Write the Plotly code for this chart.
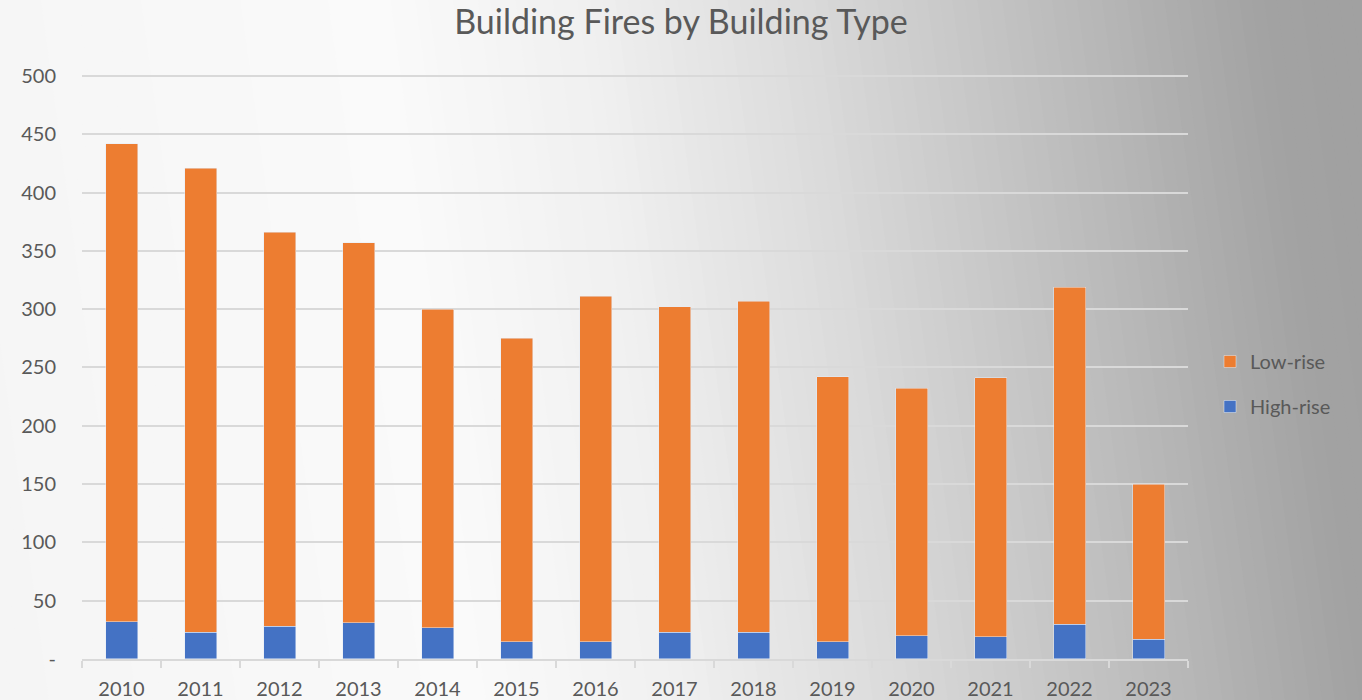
import plotly.graph_objects as go

years = ["2010", "2011", "2012", "2013", "2014", "2015", "2016",
         "2017", "2018", "2019", "2020", "2021", "2022", "2023"]
high_rise = [32, 23, 28, 31, 27, 15, 15, 23, 23, 15, 20, 19, 30, 17]
total = [442, 421, 366, 357, 300, 275, 311, 302, 307, 242, 232, 241, 319, 150]
low_rise = [t - h for t, h in zip(total, high_rise)]

y_ticks = [0, 50, 100, 150, 200, 250, 300, 350, 400, 450, 500]
y_labels = ["-"] + [str(v) for v in y_ticks[1:]]

W, H = 1362, 700
FONT = "Lato"
TEXT = "#595959"
GRID = "#d9d9d9"

fig = go.Figure()
fig.add_trace(go.Bar(x=years, y=high_rise, name="High-rise", marker_color="#4472C4",
                     legendgroup="h", legendrank=2))
fig.add_trace(go.Bar(x=years, y=low_rise, name="Low-rise", marker_color="#ED7D31",
                     legendgroup="l", legendrank=1))

# diagonal grey gradient behind everything (Excel chart area fill)
stops = [(0.0, 245), (0.35, 250), (0.5, 240), (0.65, 220), (0.8, 195), (1.0, 162), (1.2, 158)]

def grey_at(t):
    for (t0, c0), (t1, c1) in zip(stops, stops[1:]):
        if t <= t1:
            f = max(0.0, (t - t0) / (t1 - t0))
            v = round(c0 + (c1 - c0) * f)
            return f"rgb({v},{v},{v})"
    v = stops[-1][1]
    return f"rgb({v},{v},{v})"

shift = 0.07
n = 120
shapes = []
for i in range(n):
    a = -0.01 + i * (1.1 / n)
    b = a + 1.1 / n + 0.002
    path = f"M {a},0 L {b},0 L {b - shift},1 L {a - shift},1 Z"
    shapes.append(dict(type="path", path=path, xref="paper", yref="paper",
                       fillcolor=grey_at((a + b) / 2), line_width=0, layer="below"))

# 0 sits at y=659px, 500 at y=76px
y_top = 502
px_per_unit = (659 - 76) / 500
top_px = 659 - y_top * px_per_unit

fig.update_layout(
    width=W, height=H,
    margin=dict(l=0, r=0, t=0, b=0),
    paper_bgcolor="#f2f2f2",
    plot_bgcolor="rgba(0,0,0,0)",
    barmode="stack",
    bargap=0.595,
    shapes=shapes,
    font=dict(family=FONT, color=TEXT, size=20),
    title=dict(text="Building Fires by Building Type", x=0.5, xanchor="center",
               y=1 - 22 / H, yanchor="middle", font=dict(size=34, color=TEXT, family=FONT)),
    legend=dict(x=1210 / W, y=1 - 384 / H, xanchor="left", yanchor="middle",
                traceorder="grouped", tracegroupgap=16, itemwidth=30,
                bgcolor="rgba(0,0,0,0)", font=dict(size=20, color=TEXT)),
    xaxis=dict(domain=[82 / W, 1188 / W], type="category", showgrid=False,
               showline=True, linecolor=GRID, linewidth=1.5,
               ticks="outside", tickson="boundaries", ticklen=7, tickcolor=GRID, tickwidth=1.5,
               ticklabelstandoff=11,
               tickfont=dict(size=20, color=TEXT), automargin=False),
    yaxis=dict(domain=[(H - 659) / H, (H - top_px) / H], range=[0, y_top],
               tickvals=y_ticks, ticktext=y_labels, showgrid=True, gridcolor=GRID, gridwidth=1.5,
               zeroline=False, showline=False, ticklabelstandoff=25,
               tickfont=dict(size=20, color=TEXT), automargin=False),
)

fig.write_html("out.html", config={"displayModeBar": False},
               post_script="document.body.style.margin='0';")
